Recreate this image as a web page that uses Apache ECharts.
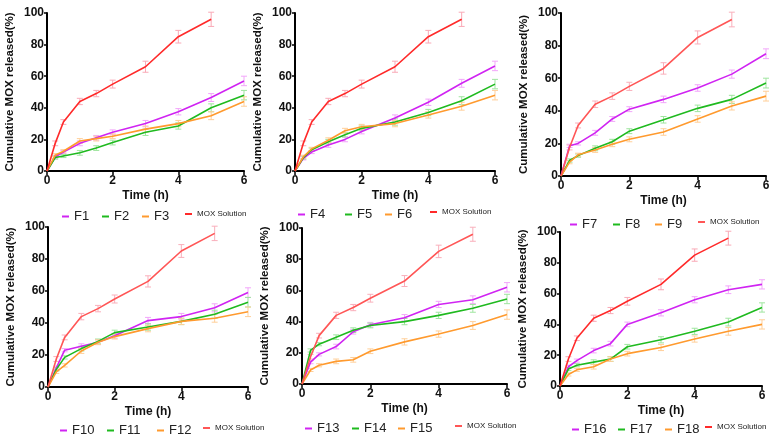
<!DOCTYPE html>
<html>
<head>
<meta charset="utf-8">
<script src="https://cdn.jsdelivr.net/npm/echarts@6/dist/echarts.min.js"></script>
<style>
  html, body { margin: 0; padding: 0; background: #fff; }
  #chart { width: 774px; height: 440px; }
</style>
</head>
<body>
<div id="chart"></div>
<script>
// 时间点 (h)
const times = [0, 0.25, 0.5, 1, 1.5, 2, 3, 4, 5, 6];
const moxTimes = [0, 0.25, 0.5, 1, 1.5, 2, 3, 4, 5];

// 释放曲线 (%)
const mox = [0, 17.5, 31, 44, 49, 55, 66, 85, 96];
const moxErr = [0, 1.5, 1.5, 2, 2, 2.5, 3.5, 4, 4.5];
const fErr = [0, 1, 1, 1.5, 1.5, 1.5, 2, 2, 2.5, 3];

const F1 = [0, 9, 12, 17.5, 21, 24.5, 30, 37.5, 46.5, 57];
const F2 = [0, 8.5, 9.5, 11.5, 14.5, 18, 24.5, 28.5, 40, 48];
const F3 = [0, 10, 12.5, 19, 20.5, 22, 26.5, 30, 35, 44];
const F4 = [0, 8, 12, 16.5, 20, 25, 33.5, 43.5, 55.5, 66.5];
const F5 = [0, 8.5, 13.5, 18.5, 23, 27, 31, 37, 44.5, 55];
const F6 = [0, 9, 14, 19.5, 25.5, 28, 30, 35.5, 41, 48];
const F7 = [0, 18.5, 20, 26.5, 35, 41, 47, 54, 62.5, 75];
const F8 = [0, 9.5, 12.5, 17, 21, 27.5, 34.5, 41.5, 47, 57];
const F9 = [0, 8.5, 13, 16, 19.5, 22.5, 27, 35, 43, 49];
const F10 = [0, 12, 23, 25.5, 28, 32, 41.5, 44, 49.5, 59];
const F11 = [0, 11, 18.5, 24, 28.5, 34, 37.5, 41, 45.5, 53];
const F12 = [0, 9.5, 13.5, 22.5, 28, 31.5, 36.5, 41, 43, 47];
const F13 = [0, 14, 19, 24, 33.5, 38, 42.5, 51, 54, 62];
const F14 = [0, 21.5, 25.5, 30, 34.5, 37.5, 40, 44, 48.5, 54.5];
const F15 = [0, 9, 12, 14.5, 15.5, 21, 27, 32, 37.5, 44.5];
const F16 = [0, 12.5, 16.5, 23, 27.5, 40, 47.5, 56, 62.5, 66];
const F17 = [0, 11, 13.5, 15.5, 17.5, 25.5, 30, 35.5, 41.5, 51];
const F18 = [0, 7.5, 10.5, 12.5, 17.5, 21, 25, 30.5, 35.5, 40];

const xTicks = [0, 2, 4, 6];
const yTicks = [0, 20, 40, 60, 80, 100];

// 颜色
const MAG = '#d024f2', GRN = '#1fba1f', ORG = '#ff9a2e';
const errColor = { '#d024f2': '#f2a6fa', '#1fba1f': '#9fe59f', '#ff9a2e': '#ffcf99', '#ff2a2a': '#f9a9b6', '#ff5656': '#f9afbb' };

const narrow = '"Liberation Sans Narrow", "Liberation Sans", Arial, sans-serif';
const normal = '"Liberation Sans", Arial, sans-serif';

// 每个面板的布局
const panels = [
  { grid: [47, 13, 197, 158], lines: [['F1', F1, MAG], ['F2', F2, GRN], ['F3', F3, ORG]], red: '#ff2a2a',
    leg: [62, 102, 142, 185], legY: 215 },
  { grid: [295, 13, 200, 158], lines: [['F4', F4, MAG], ['F5', F5, GRN], ['F6', F6, ORG]], red: '#ff2a2a',
    leg: [298, 345, 385, 430], legY: 213 },
  { grid: [561, 13, 205, 163], lines: [['F7', F7, MAG], ['F8', F8, GRN], ['F9', F9, ORG]], red: '#ff5656',
    leg: [570, 613, 655, 698], legY: 223 },
  { grid: [48, 227, 200, 160], lines: [['F10', F10, MAG], ['F11', F11, GRN], ['F12', F12, ORG]], red: '#ff5656',
    leg: [60, 107, 157, 203], legY: 429 },
  { grid: [302, 228, 205, 156], lines: [['F13', F13, MAG], ['F14', F14, GRN], ['F15', F15, ORG]], red: '#ff5656',
    leg: [305, 352, 398, 455], legY: 427 },
  { grid: [560, 232, 202, 154], lines: [['F16', F16, MAG], ['F17', F17, GRN], ['F18', F18, ORG]], red: '#ff2a2a',
    leg: [572, 618, 665, 705], legY: 428 }
];

function errRender(color) {
  return function (params, api) {
    const x = api.value(0);
    const lo = api.coord([x, api.value(1)]);
    const hi = api.coord([x, api.value(2)]);
    const w = 3;
    const style = { stroke: color, lineWidth: 1 };
    return {
      type: 'group',
      children: [
        { type: 'line', shape: { x1: lo[0], y1: lo[1], x2: hi[0], y2: hi[1] }, style: style },
        { type: 'line', shape: { x1: lo[0] - w, y1: lo[1], x2: lo[0] + w, y2: lo[1] }, style: style },
        { type: 'line', shape: { x1: hi[0] - w, y1: hi[1], x2: hi[0] + w, y2: hi[1] }, style: style }
      ]
    };
  };
}

const grids = [], xAxes = [], yAxes = [], series = [], legends = [];

panels.forEach((p, i) => {
  grids.push({ left: p.grid[0], top: p.grid[1], width: p.grid[2], height: p.grid[3] });
  xAxes.push({
    gridIndex: i, type: 'value', min: 0, max: 6, interval: 2,
    name: 'Time (h)', nameLocation: 'middle', nameGap: 19,
    nameTextStyle: { fontFamily: narrow, fontWeight: 'bold', fontSize: 12, color: '#111' },
    axisLine: { lineStyle: { color: '#000', width: 2 } },
    axisTick: { length: 4, lineStyle: { width: 1.5, color: '#000' } },
    axisLabel: { fontFamily: narrow, fontWeight: 'bold', fontSize: 12, color: '#111', margin: 4,
      formatter: v => xTicks.includes(v) ? String(v) : '' },
    splitLine: { show: false }
  });
  yAxes.push({
    gridIndex: i, type: 'value', min: 0, max: 100, interval: 20,
    name: 'Cumulative MOX released(%)', nameLocation: 'middle', nameGap: 31,
    nameTextStyle: { fontFamily: normal, fontWeight: 'bold', fontSize: 11.5, color: '#111' },
    axisLine: { show: true, lineStyle: { color: '#000', width: 2 } },
    axisTick: { show: true, length: 3, lineStyle: { width: 1.5, color: '#000' } },
    axisLabel: { fontFamily: narrow, fontWeight: 'bold', fontSize: 12, color: '#111', margin: 3,
      formatter: v => yTicks.includes(v) ? String(v) : '' },
    splitLine: { show: false }
  });

  const all = p.lines.map(l => [l[0], l[1], l[2], times, fErr]).concat([['MOX Solution', mox, p.red, moxTimes, moxErr]]);
  all.forEach(([name, vals, color, ts, errs]) => {
    series.push({
      name: name + ' err', type: 'custom', xAxisIndex: i, yAxisIndex: i, z: 1, silent: true,
      renderItem: errRender(errColor[color]),
      data: ts.map((t, k) => [t, vals[k] - errs[k], vals[k] + errs[k]]).filter((d, k) => errs[k] > 0)
    });
  });
  all.forEach(([name, vals, color, ts]) => {
    series.push({
      name: name, type: 'line', xAxisIndex: i, yAxisIndex: i, z: 3,
      showSymbol: false, symbol: 'none', animation: false,
      lineStyle: { color: color, width: 1.6 }, itemStyle: { color: color },
      data: ts.map((t, k) => [t, vals[k]])
    });
  });

  const names = p.lines.map(l => [l[0], l[2]]).concat([['MOX Solution', p.red]]);
  names.forEach(([name, color], k) => {
    const small = name === 'MOX Solution';
    legends.push({
      left: p.leg[k], top: p.legY - 5, selectedMode: false,
      icon: 'rect', itemWidth: 7, itemHeight: 2, padding: 0,
      data: [{ name: name, itemStyle: { color: color },
        textStyle: { fontFamily: narrow, fontSize: small ? 8 : 13, color: '#222' } }]
    });
  });
});

const myChart = echarts.init(document.getElementById('chart'), null, { renderer: 'canvas' });
myChart.setOption({
  animation: false,
  backgroundColor: '#fff',
  grid: grids,
  xAxis: xAxes,
  yAxis: yAxes,
  legend: legends,
  series: series
});
</script>
</body>
</html>
